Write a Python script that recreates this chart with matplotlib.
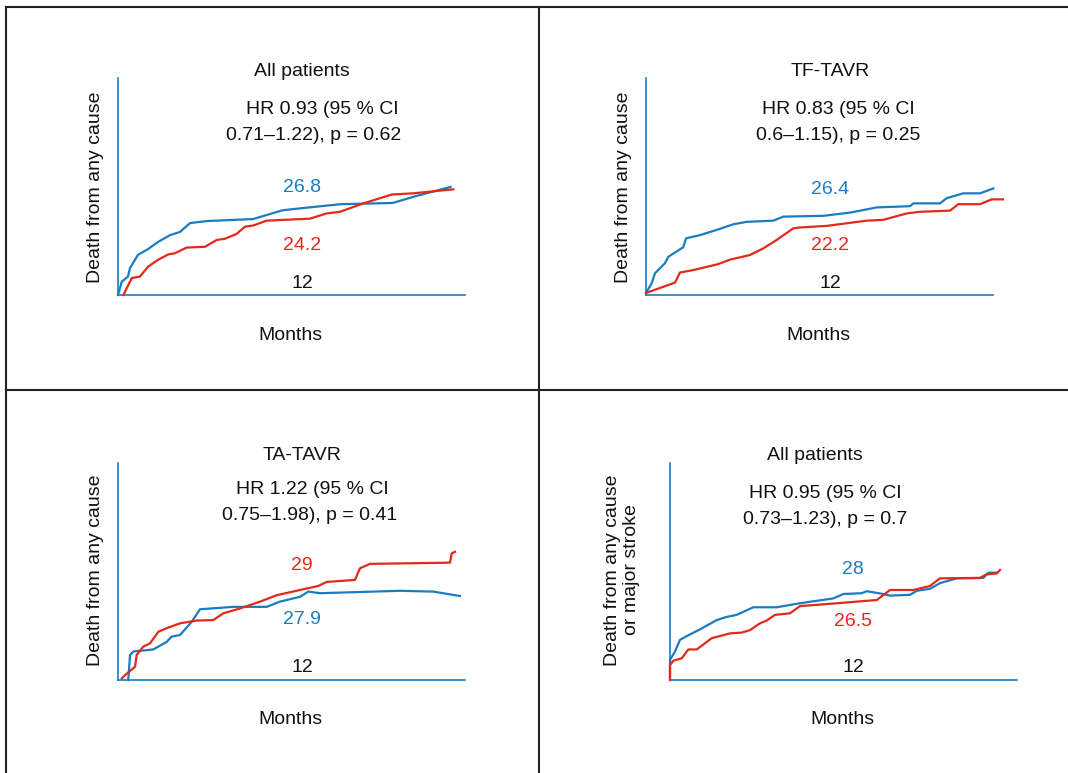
import matplotlib
matplotlib.use("Agg")
import matplotlib.pyplot as plt
from matplotlib.lines import Line2D

plt.rcParams["font.family"] = ["Liberation Sans", "DejaVu Sans"]

BLUE = "#1a7dc2"
RED = "#e2291c"

# ---- data (months, % events) ----
p1_blue_t = [0, 0.26, 0.69, 0.83, 1.38, 2.07, 2.77, 3.6, 4.29, 4.98, 6.16, 9.34, 11.4, 13.5, 15.4, 19.0, 20.4, 23.0]
p1_blue_y = [0, 3.3, 4.6, 6.7, 10.0, 11.4, 13.2, 14.9, 15.7, 17.9, 18.4, 18.9, 21.1, 21.9, 22.6, 22.9, 24.4, 26.9]
p1_red_t = [0.37, 0.95, 1.52, 2.1, 2.79, 3.48, 3.94, 4.75, 6.02, 6.83, 7.4, 8.2, 8.78, 9.36, 10.28, 13.28, 14.43, 15.35, 16.97, 18.93, 20.42, 23.19]
p1_red_y = [0, 4.2, 4.6, 7.1, 8.8, 10.1, 10.4, 11.8, 12.0, 13.7, 14.0, 15.2, 17.0, 17.3, 18.5, 19.0, 20.3, 20.7, 22.8, 25.0, 25.3, 26.3]

p2_blue_t = [0, 0.39, 0.62, 1.31, 1.54, 2.58, 2.77, 3.73, 4.89, 6.04, 6.96, 8.8, 9.5, 12.26, 14.11, 15.96, 18.26, 18.49, 20.33, 20.8, 21.95, 23.1, 24.02]
p2_blue_y = [0.5, 2.9, 5.4, 7.9, 9.5, 11.9, 14.1, 14.9, 16.2, 17.6, 18.2, 18.5, 19.5, 19.7, 20.5, 21.8, 22.1, 22.8, 22.8, 24.1, 25.3, 25.3, 26.5]
p2_red_t = [0, 2.01, 2.35, 3.27, 4.2, 5.0, 5.81, 7.19, 8.11, 9.04, 10.19, 10.65, 12.5, 15.26, 16.41, 18.03, 18.95, 21.03, 21.6, 23.1, 23.91, 24.69]
p2_red_y = [0.5, 3.1, 5.6, 6.2, 7.0, 7.7, 8.8, 9.95, 11.6, 13.7, 16.6, 16.8, 17.2, 18.5, 18.7, 20.3, 20.7, 21.0, 22.6, 22.6, 23.8, 23.8]

p3_blue_t = [0.71, 0.83, 1.06, 2.44, 3.37, 3.71, 4.29, 5.1, 5.67, 7.97, 10.28, 11.2, 12.59, 13.16, 13.97, 19.5, 21.81, 23.65]
p3_blue_y = [0, 6.2, 7.1, 7.6, 9.5, 10.8, 11.2, 14.5, 17.6, 18.2, 18.2, 19.5, 20.7, 22.0, 21.6, 22.2, 22.0, 20.9]
p3_red_t = [0.26, 0.48, 1.18, 1.29, 1.75, 2.21, 2.79, 3.37, 4.29, 5.44, 6.59, 7.28, 8.44, 9.82, 10.98, 12.59, 13.85, 14.43, 16.39, 16.74, 17.43, 22.96, 23.08, 23.31]
p3_red_y = [0.4, 1.2, 3.3, 6.2, 8.3, 9.1, 12.0, 12.9, 14.1, 14.8, 14.9, 16.6, 17.8, 19.5, 21.1, 22.4, 23.4, 24.4, 24.9, 27.8, 28.9, 29.2, 31.5, 31.9]

p4_blue_t = [0, 0, 0.35, 0.69, 1.15, 2.07, 3.23, 3.92, 4.61, 5.76, 7.38, 8.99, 11.29, 11.99, 13.26, 13.61, 14.75, 15.22, 16.6, 17.07, 17.98, 18.67, 19.83, 21.67, 22.02, 22.6]
p4_blue_y = [0, 5.0, 7.1, 10.0, 10.9, 12.6, 14.9, 15.7, 16.2, 18.1, 18.1, 19.1, 20.3, 21.4, 21.6, 22.1, 21.4, 21.0, 21.2, 22.2, 22.7, 24.1, 25.3, 25.4, 26.7, 26.7]
p4_red_t = [0, 0, 0.23, 0.81, 1.27, 1.85, 2.88, 4.15, 4.96, 5.53, 6.22, 6.69, 7.26, 8.3, 8.99, 10.15, 14.3, 15.22, 16.83, 17.98, 18.67, 21.44, 21.9, 22.6, 22.83]
p4_red_y = [0, 3.7, 4.8, 5.4, 7.6, 7.6, 10.4, 11.6, 11.8, 12.4, 14.1, 14.8, 16.2, 16.6, 18.4, 18.7, 19.9, 22.4, 22.4, 23.4, 25.3, 25.4, 26.3, 26.5, 27.4]

titles = ["All patients", "TF-TAVR", "TA-TAVR", "All patients"]
hr_lines = [("HR 0.93 (95 % CI", "0.71\u20131.22), p = 0.62"),
            ("HR 0.83 (95 % CI", "0.6\u20131.15), p = 0.25"),
            ("HR 1.22 (95 % CI", "0.75\u20131.98), p = 0.41"),
            ("HR 0.95 (95 % CI", "0.73\u20131.23), p = 0.7")]
ylabels = ["Death from any cause", "Death from any cause", "Death from any cause",
           "Death from any cause\nor major stroke"]
blue_labels = ["26.8", "26.4", "27.9", "28"]
red_labels = ["24.2", "22.2", "29", "26.5"]

W, H = 1068, 773
fig = plt.figure(figsize=(W / 100, H / 100), dpi=100)


def px(x, y):
    return x / W, 1 - y / H


def put(x, y, s, color="#111111", size=14, **kw):
    fx, fy = px(x, y)
    fig.text(fx, fy, s, color=color, fontsize=size, ha="center", va="center", **kw)


# axes boxes in pixels: left, top, right, bottom
boxes = [(118, 78, 465, 295), (646, 78, 993, 295), (118, 463, 465, 680), (670, 463, 1017, 680)]
curves = [(p1_blue_t, p1_blue_y, p1_red_t, p1_red_y),
          (p2_blue_t, p2_blue_y, p2_red_t, p2_red_y),
          (p3_blue_t, p3_blue_y, p3_red_t, p3_red_y),
          (p4_blue_t, p4_blue_y, p4_red_t, p4_red_y)]
# text anchor pixels per panel
title_xy = [(302, 71), (830, 71), (302, 456), (815, 456)]
hr1_xy = [(322, 109), (838, 109), (312, 490), (825, 494)]
hr2_xy = [(314, 135), (838, 135), (310, 516), (825, 520)]
blue_xy = [(302, 188), (830, 190), (302, 620), (853, 569)]
red_xy = [(302, 245), (830, 245), (302, 565), (853, 621)]
twelve_xy = [(302, 284), (830, 284), (302, 668), (853, 668)]
months_xy = [(290, 335), (818, 335), (290, 720), (842, 720)]
ylab_xy = [(96, 187), (624, 187), (96, 570), (622, 570)]

for i in range(4):
    l, t, r, b = boxes[i]
    fx, fy = px(l, b)
    ax = fig.add_axes([fx, fy, (r - l) / W, (b - t) / H])
    bt, by, rt, ry = curves[i]
    ax.plot(bt, by, color=BLUE, lw=1.6, clip_on=False, zorder=3, solid_joinstyle="round")
    ax.plot(rt, ry, color=RED, lw=1.6, clip_on=False, zorder=3, solid_joinstyle="round")
    ax.set_xlim(0, 24)
    ax.set_ylim(0, 54)
    ax.set_xticks([])
    ax.set_yticks([])
    for s in ["top", "right"]:
        ax.spines[s].set_visible(False)
    for s in ["left", "bottom"]:
        ax.spines[s].set_color(BLUE)
        ax.spines[s].set_linewidth(1.2)
    ax.patch.set_alpha(0)

    put(*title_xy[i], titles[i])
    put(*hr1_xy[i], hr_lines[i][0])
    put(*hr2_xy[i], hr_lines[i][1])
    put(*blue_xy[i], blue_labels[i], color=BLUE)
    put(*red_xy[i], red_labels[i], color=RED)
    put(*twelve_xy[i], "12")
    put(*months_xy[i], "Months")
    put(*ylab_xy[i], ylabels[i], rotation=90, linespacing=1.1)

# panel frame
frame = [((6, 7), (6, 773)), ((6, 7), (1068, 7)), ((539, 7), (539, 773)), ((6, 390), (1068, 390))]
for (x0, y0), (x1, y1) in frame:
    a, b_ = px(x0, y0)
    c, d = px(x1, y1)
    fig.add_artist(Line2D([a, c], [b_, d], color="#222222", lw=1.5))

fig.savefig("out.png", dpi=100)
